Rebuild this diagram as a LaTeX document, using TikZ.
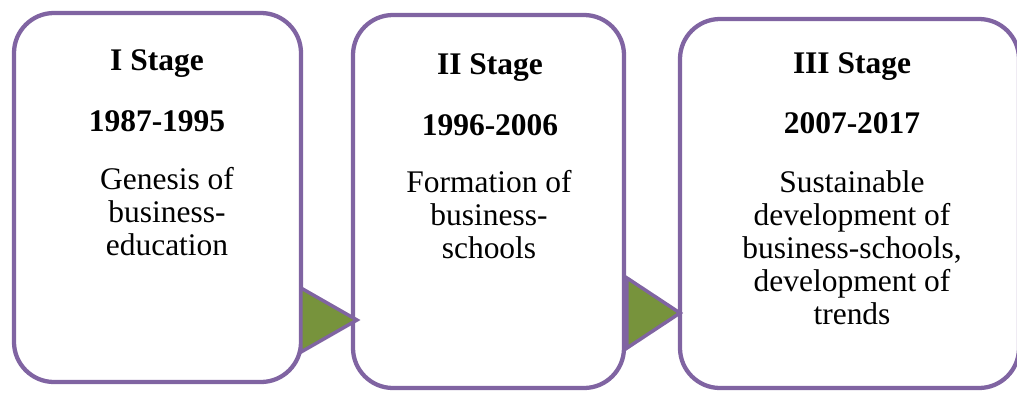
\documentclass[tikz,border=0pt]{standalone}
\usepackage{fontspec}
\setmainfont{Liberation Serif}
\usepackage{tikz}
\usetikzlibrary{positioning}

\definecolor{stagepurple}{RGB}{128,100,162}
\definecolor{stagegreen}{RGB}{119,147,60}

\begin{document}
\begin{tikzpicture}[x=0.75pt,y=0.75pt,yscale=-1,xscale=1,
  stagebox/.style={draw=stagepurple, line width=3.2pt, fill=white, rounded corners=30pt, inner sep=0pt, outer sep=0pt},
  arrowtri/.style={draw=stagepurple, line width=2.6pt, fill=stagegreen},
  stagetitle/.style={inner sep=0.75pt, font=\rmfamily\fontsize{23.6}{24.8}\selectfont\bfseries},
  stagetext/.style={inner sep=0.75pt, align=center, font=\rmfamily\fontsize{23.6}{24.8}\selectfont}]
\useasboundingbox (0,0) rectangle (1017,394);

%Shape: Rounded Rectangle [id:stageone]
\node [stagebox, minimum width=215.25pt, minimum height=276.75pt] (stageone) at (157.5,197.5) {};
%Shape: Rounded Rectangle [id:stagetwo]
\node [stagebox, minimum width=203.25pt, minimum height=279.75pt] (stagetwo) at (488.5,201.5) {};
%Shape: Rounded Rectangle [id:stagethree]
\node [stagebox, minimum width=254.25pt, minimum height=276.75pt] (stagethree) at (849.5,203.5) {};

%Shape: Triangle [id:arrowone]
\draw [arrowtri] (301,288) -- (357,320) -- (301,352) -- cycle ;
%Shape: Triangle [id:arrowtwo]
\draw [arrowtri] (627,278) -- (680,313) -- (627,348) -- cycle ;

% Text Node
\node [stagetitle] (titleone) at (157,64) {I Stage};
% Text Node
\node [stagetitle] (yearsone) at (157,121) {1987-1995};
% Text Node
\node [stagetext] (textone) at (167,212) {Genesis of\\business-\\education};
% Text Node
\node [stagetitle] (titletwo) at (490,68) {II Stage};
% Text Node
\node [stagetitle] (yearstwo) at (490,125) {1996-2006};
% Text Node
\node [stagetext] (texttwo) at (489,215) {Formation of\\business-\\schools};
% Text Node
\node [stagetitle] (titlethree) at (852,67) {III Stage};
% Text Node
\node [stagetitle] (yearsthree) at (852,123) {2007-2017};
% Text Node
\node [stagetext] (textthree) at (852,248) {Sustainable\\development of\\business-schools,\\development of\\trends};
\end{tikzpicture}
\end{document}
